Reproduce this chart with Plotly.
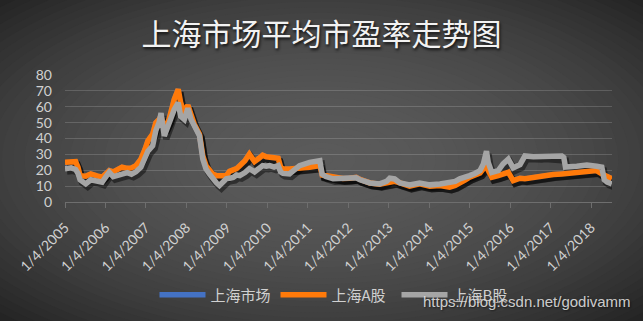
import plotly.graph_objects as go
import pandas as pd

# ---------------- data ----------------
DATES = [
    "2005-01-04", "2005-02-28", "2005-04-10", "2005-05-01", "2005-05-20", "2005-07-10",
    "2005-08-25", "2005-10-20", "2005-12-05", "2006-01-20", "2006-02-08", "2006-03-15",
    "2006-04-20", "2006-06-03", "2006-07-20", "2006-08-27", "2006-10-06", "2006-11-20",
    "2006-12-26", "2007-01-22", "2007-03-06", "2007-04-04", "2007-05-03", "2007-05-21",
    "2007-06-19", "2007-08-01", "2007-09-17", "2007-10-23", "2007-11-14", "2007-12-17",
    "2008-01-18", "2008-02-16", "2008-03-16", "2008-05-02", "2008-06-01", "2008-06-30",
    "2008-08-01", "2008-08-30", "2008-10-03", "2008-10-29", "2008-11-27", "2008-12-30",
    "2009-01-28", "2009-03-02", "2009-04-01", "2009-04-30", "2009-06-16", "2009-07-26",
    "2009-09-11", "2009-10-21", "2009-11-23", "2009-12-26", "2010-01-25", "2010-03-06",
    "2010-04-12", "2010-05-04", "2010-05-26", "2010-07-23", "2010-09-23", "2010-10-22",
    "2011-01-21", "2011-03-17", "2011-04-23", "2011-05-14", "2011-06-16", "2011-08-21",
    "2011-11-17", "2012-01-15", "2012-03-16", "2012-04-18", "2012-07-18", "2012-10-14",
    "2012-12-15", "2013-01-13", "2013-02-26", "2013-04-15", "2013-07-11", "2013-10-10",
    "2014-01-10", "2014-04-11", "2014-07-07", "2014-08-27", "2014-10-07", "2014-11-27",
    "2015-01-04", "2015-02-20", "2015-04-08", "2015-05-08", "2015-05-22", "2015-06-05",
    "2015-06-21", "2015-07-23", "2015-09-19", "2015-11-02", "2015-12-19", "2016-02-01",
    "2016-04-03", "2016-05-17", "2016-08-01", "2016-09-28", "2016-10-31", "2017-01-28",
    "2017-04-15", "2017-05-03", "2017-05-18", "2017-08-28", "2017-11-27", "2018-02-23",
    "2018-04-11", "2018-05-03", "2018-05-29", "2018-07-11",
]

SH_A = [
    25, 25.5, 25.4, 22, 16.6, 16.2, 17.7, 16.5, 15.6, 18.5, 19.8, 19,
    20.4, 22, 21.2, 21.5, 22.9, 27, 33, 38.5, 42.7, 50, 52, 54,
    45.8, 52, 64.6, 71, 62.5, 56, 61, 54, 49, 42.7, 29, 22.9,
    20, 17.7, 16.5, 16.6, 17, 16.6, 19.3, 20, 21, 22.9, 26, 30.2,
    25.5, 27.5, 29.5, 28.5, 28, 27.5, 27.5, 22, 20.8, 20.8, 21, 21.9,
    21.9, 22.5, 22.9, 17, 16.6, 15.6, 14.8, 15, 15.6, 14.3, 12, 11.2,
    12, 12.5, 13, 12, 10, 11.4, 10, 10.4, 9.4, 10.5, 12.5, 14,
    15.6, 17, 18.3, 21, 24, 22, 19.8, 15.6, 16.6, 17.7, 18.7, 13.5,
    15, 14.6, 15.6, 16.3, 16.6, 17.3, 17.7, 17.8, 18, 18.7, 19.6, 19.8,
    17.7, 17, 16.5, 14.6,
]

# 上海市场 (hidden almost completely behind 上海A股)
SH_ALL = [
    24.8, 25.3, 25.2, 21.8, 16.5, 16.0, 17.5, 16.3, 15.4, 18.4, 19.7, 18.8,
    20.2, 21.8, 21.0, 21.3, 22.7, 26.8, 32.8, 38.3, 42.5, 49.8, 51.8, 53.9,
    45.6, 51.8, 64.4, 70.8, 62.3, 55.8, 60.8, 53.8, 48.8, 42.5, 28.9, 22.8,
    19.9, 17.6, 16.4, 16.4, 16.9, 16.5, 19.2, 19.9, 20.9, 22.8, 25.9, 30.0,
    25.4, 27.4, 29.3, 28.4, 27.9, 27.4, 27.4, 21.9, 20.7, 20.7, 20.9, 21.8,
    21.8, 22.4, 22.8, 16.9, 16.5, 15.5, 14.7, 14.9, 15.5, 14.2, 11.9, 11.1,
    11.9, 12.4, 12.9, 11.9, 9.9, 11.3, 9.9, 10.3, 9.3, 10.4, 12.4, 13.9,
    15.5, 16.9, 18.2, 20.9, 23.9, 21.9, 19.7, 15.5, 16.5, 17.6, 18.6, 13.4,
    14.9, 14.5, 15.5, 16.2, 16.5, 17.2, 17.6, 17.7, 17.9, 18.6, 19.5, 19.7,
    17.6, 16.9, 16.4, 14.5,
]

SH_B = [
    21, 21.5, 20.5, 18, 14, 11.4, 14, 13.5, 12.5, 17, 18.7, 16,
    16.6, 18, 18.5, 17.5, 19, 21.9, 28, 32, 35.4, 45, 50, 56,
    41.6, 50, 58.3, 62.5, 54, 52, 59, 52, 48, 41.6, 27, 20.8,
    17.5, 14.6, 12, 10.4, 13, 14.6, 15, 15.5, 17, 16.6, 18.5, 21,
    19, 21, 22.9, 22.5, 22.9, 22, 23, 19, 18, 17.7, 22, 22.9,
    25, 25.5, 26, 17.5, 16, 14.6, 14.6, 14.8, 15.2, 14, 12, 11.4,
    13, 15, 14.5, 12, 10.8, 12, 10.8, 11.4, 12.5, 13, 14.6, 15.5,
    16.6, 18, 19.8, 24, 30.2, 32, 25, 18.7, 19.8, 24, 27, 21.5,
    23.5, 29, 28.5, 28.7, 29, 28.5, 29, 28, 22, 22.5, 23.3, 22.5,
    21.9, 14, 12.5, 11.4,
]

SERIES_NAMES = ["上海市场", "上海A股", "上海B股"]
SERIES_COLORS = ["#4472C4", "#FF7A0A", "#A5A5A5"]

TICK_DATES = ["%d-01-04" % y for y in range(2005, 2019)]
TICK_TEXT = ["1/4/%d" % y for y in range(2005, 2019)]
Y_TICKS = [0, 10, 20, 30, 40, 50, 60, 70, 80]

TITLE = "上海市场平均市盈率走势图"
WATERMARK = "https://blog.csdn.net/godivamm"

# ---------------- layout geometry ----------------
W, H = 643, 321
ML, MR, MT, MB = 65, 31, 75, 118
PW, PH = W - ML - MR, H - MT - MB

X0 = pd.Timestamp("2005-01-04")
X1 = pd.Timestamp("2018-07-12")
days_per_px = (X1 - X0).days / PW
shadow_dx = pd.Timedelta(days=2 * days_per_px)      # 2px to the right
shadow_dy = 3 * 80 / PH                              # 3px downwards

CJK = "Noto Sans CJK SC"
NUMF = "Lato, 'Noto Sans CJK SC'"

fig = go.Figure()

series_values = [SH_ALL, SH_A, SH_B]

# 上海市场 on the base axes (it lies underneath everything else)
fig.add_trace(go.Scatter(
    x=DATES, y=SH_ALL, mode="lines", name=SERIES_NAMES[0],
    line=dict(color=SERIES_COLORS[0], width=5.5),
))

# shadows (on a slightly shifted overlay axis pair)
for vals in series_values:
    fig.add_trace(go.Scatter(
        x=DATES, y=vals, mode="lines", xaxis="x2", yaxis="y2",
        line=dict(color="rgba(0,0,0,0.45)", width=6.5),
        showlegend=False, hoverinfo="skip",
    ))

# A / B lines on top
for name, vals, col in zip(SERIES_NAMES[1:], series_values[1:], SERIES_COLORS[1:]):
    fig.add_trace(go.Scatter(
        x=DATES, y=vals, mode="lines", name=name, xaxis="x3", yaxis="y3",
        line=dict(color=col, width=5.5),
    ))

# radial-ish background gradient built from stacked ellipses
shapes = []
cx_px, cy_px = W / 2, H / 2
N = 40
c_center, c_edge = 90, 36
for k in range(N, 0, -1):
    f = k / N
    c = int(round(c_center - (c_center - c_edge) * f ** 2))
    rx, ry = 1.42 * cx_px * f, 1.42 * cy_px * f
    x0p, x1p = (cx_px - rx - ML) / PW, (cx_px + rx - ML) / PW
    y0p, y1p = (H - MB - (cy_px + ry)) / PH, (H - MB - (cy_px - ry)) / PH
    shapes.append(dict(
        type="circle", xref="paper", yref="paper", layer="below",
        x0=x0p, x1=x1p, y0=y0p, y1=y1p,
        fillcolor="rgb(%d,%d,%d)" % (c, c, c), line=dict(width=0),
    ))

fig.update_layout(
    width=W, height=H,
    margin=dict(l=ML, r=MR, t=MT, b=MB, pad=0),
    paper_bgcolor="rgb(%d,%d,%d)" % (c_edge, c_edge, c_edge),
    plot_bgcolor="rgba(0,0,0,0)",
    shapes=shapes,
    title=dict(
        text=TITLE, x=0.5, xanchor="center", y=1 - 34 / H, yanchor="middle",
        font=dict(family=CJK, size=30, color="#F2F2F2",
                  shadow="1px 2px 3px rgba(0,0,0,0.8)"),
    ),
    xaxis=dict(
        type="date", range=[X0, X1],
        tickvals=TICK_DATES, ticktext=TICK_TEXT, tickangle=-45,
        tickfont=dict(family=NUMF, size=14, color="#D0D0D0"),
        ticks="outside", ticklen=5, tickcolor="#6E6E6E", tickwidth=1,
        showline=True, linecolor="#6E6E6E", linewidth=1,
        showgrid=False, zeroline=False, ticklabelstandoff=6,
    ),
    yaxis=dict(
        range=[0, 80], tickvals=Y_TICKS,
        tickfont=dict(family=NUMF, size=14, color="#D0D0D0"),
        showgrid=True, gridcolor="rgba(255,255,255,0.16)", gridwidth=1,
        showline=False, zeroline=False, ticks="", ticklabelstandoff=12,
    ),
    xaxis2=dict(type="date", overlaying="x", anchor="y2",
                range=[X0 - shadow_dx, X1 - shadow_dx], visible=False),
    yaxis2=dict(overlaying="y", anchor="x2",
                range=[shadow_dy, 80 + shadow_dy], visible=False),
    xaxis3=dict(type="date", overlaying="x", anchor="y3",
                range=[X0, X1], visible=False),
    yaxis3=dict(overlaying="y", anchor="x3", range=[0, 80], visible=False),
    legend=dict(
        orientation="h", x=(336 - ML) / PW, xanchor="center",
        y=(H - MB - 295) / PH, yanchor="middle",
        font=dict(family=CJK, size=15, color="#D0D0D0"),
        bgcolor="rgba(0,0,0,0)", itemwidth=46,
        entrywidth=60, entrywidthmode="pixels",
    ),
    annotations=[dict(
        text=WATERMARK, xref="paper", yref="paper",
        x=(633 - ML) / PW, xanchor="right", y=(H - MB - 303) / PH, yanchor="middle",
        showarrow=False,
        font=dict(family="Liberation Sans, Arial", size=15, color="rgba(225,225,225,0.9)",
                  shadow="1px 1px 2px rgba(0,0,0,0.6)"),
    )],
    showlegend=True,
)

fig.write_html("out.html")
